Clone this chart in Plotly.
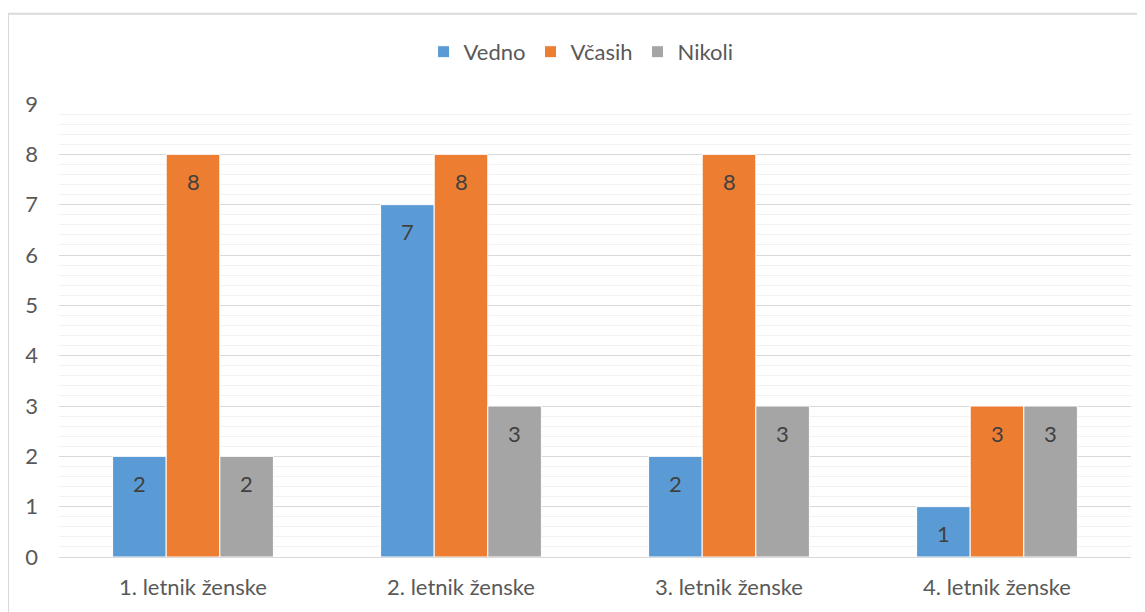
import plotly.graph_objects as go

categories = ["1. letnik ženske", "2. letnik ženske", "3. letnik ženske", "4. letnik ženske"]
vedno = [2, 7, 2, 1]
vcasih = [8, 8, 8, 3]
nikoli = [2, 3, 3, 3]
series_names = ["Vedno", "Včasih", "Nikoli"]
colors = ["#5B9BD5", "#ED7D31", "#A5A5A5"]
y_ticks = [0, 1, 2, 3, 4, 5, 6, 7, 8, 9]

FONT = "Lato"
FS = 22
W, H = 1145, 612
M = dict(l=51, r=22, t=96, b=63)
BARGAP = 0.4
plot_w = W - M["l"] - M["r"]
bar_px = plot_w / len(categories) * (1 - BARGAP) / len(series_names)

fig = go.Figure()
annotations = []
for j, (name, vals, col) in enumerate(zip(series_names, [vedno, vcasih, nikoli], colors)):
    fig.add_trace(go.Bar(
        x=categories, y=vals, name=name,
        marker=dict(color=col, line=dict(color="white", width=1)),
    ))
    for cat, v in zip(categories, vals):
        annotations.append(dict(
            x=cat, y=v, xref="x", yref="y", text=str(v), showarrow=False,
            xshift=(j - 1) * bar_px, yshift=-27,
            font=dict(family=FONT, size=FS, color="#404040"),
        ))

fig.update_layout(
    width=W, height=H, margin=M,
    paper_bgcolor="white", plot_bgcolor="white",
    barmode="group", bargap=BARGAP, bargroupgap=0,
    font=dict(family=FONT, size=FS, color="#595959"),
    showlegend=True,
    legend=dict(orientation="h", x=0.487, xanchor="center", y=1.115, yanchor="middle",
                font=dict(family=FONT, size=FS, color="#595959"),
                itemwidth=30, traceorder="normal"),
    annotations=annotations,
    shapes=[dict(type="rect", xref="paper", yref="paper",
                 x0=-0.0476, x1=1.05, y0=-0.3, y1=1.199,
                 line=dict(color="#D9D9D9", width=2), fillcolor="rgba(0,0,0,0)", layer="below")],
)
fig.update_yaxes(
    range=[0, 9], tickvals=y_ticks, showgrid=True, gridcolor="#D9D9D9", gridwidth=1,
    minor=dict(dtick=0.2, showgrid=True, gridcolor="#F2F2F2", gridwidth=1),
    zeroline=False, showline=False, ticks="", ticklabelstandoff=20,
    tickfont=dict(family=FONT, size=FS, color="#595959"),
)
fig.update_xaxes(
    showline=True, linecolor="#D9D9D9", linewidth=1, ticks="", showgrid=False,
    ticklabelstandoff=11,
    tickfont=dict(family=FONT, size=FS, color="#595959"),
)
fig.write_html("out.html")
